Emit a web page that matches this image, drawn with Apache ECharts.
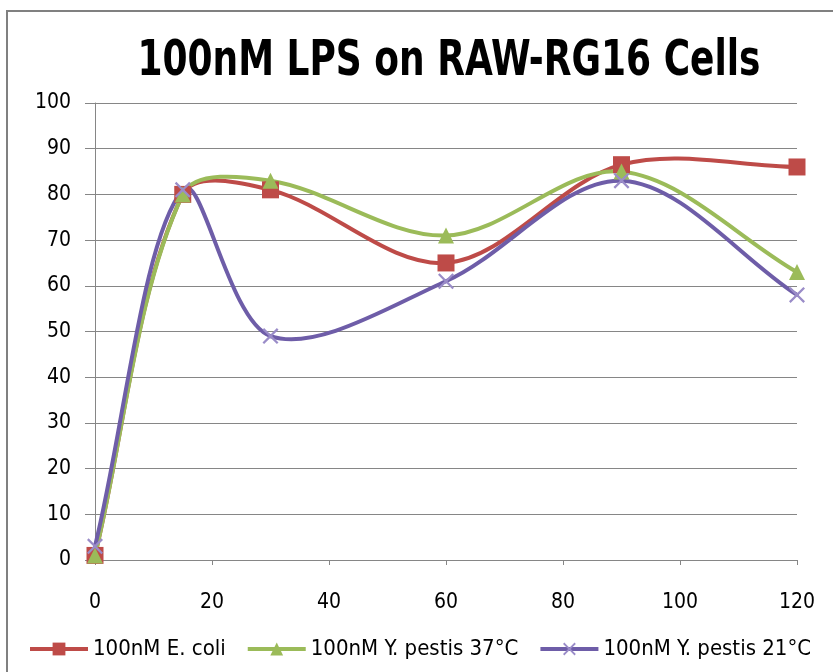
<!DOCTYPE html>
<html>
<head>
<meta charset="utf-8">
<script src="https://cdn.jsdelivr.net/npm/echarts@6/dist/echarts.min.js"></script>
<style>
html,body{margin:0;padding:0;background:#fff;}
#chart{width:833px;height:672px;}
</style>
</head>
<body>
<div id="chart"></div>
<script>
const titleText = '100nM LPS on RAW-RG16 Cells';
const seriesNames = ['100nM E. coli', '100nM Y. pestis 37°C', '100nM Y. pestis 21°C'];
const xValues = [0, 15, 30, 60, 90, 120];
const ecoli = [1, 80, 81, 65, 86.5, 86];
const ypestis37 = [1, 80, 83, 71, 85, 63];
const ypestis21 = [3, 81, 49, 61, 83, 58];
const yTicks = [0, 10, 20, 30, 40, 50, 60, 70, 80, 90, 100];
const xTicks = [0, 20, 40, 60, 80, 100, 120];

const FONT = '"DejaVu Sans Condensed", "Liberation Sans Narrow", sans-serif';
const colors = ['#BE4B48', '#9BBB59', '#6E5DA8'];
const markerColors = ['#BE4B48', '#9BBB59', '#9a8cc8'];
const crossPath = 'path://M0,1 L1,0 L5,4 L9,0 L10,1 L6,5 L10,9 L9,10 L5,6 L1,10 L0,9 L4,5 Z';
const LINE_W = 4;

function pairs(vals){ return xValues.map((x,i)=>[x, vals[i]]); }

// Smoothed segment (Excel-like), built from pixel positions given by the axes
function curveSeries(name, vals, color, z){
  return {
    type: 'custom', name: name + ' curve', z: z, silent: true,
    data: pairs(vals), encode: {x: 0, y: 1},
    renderItem: function(params, api){
      const i = params.dataIndex;
      const n = vals.length;
      if (i >= n - 1) return null;
      const P = xValues.map((x,k)=>api.coord([x, vals[k]]));
      const dist = (a,b)=>Math.hypot(b[0]-a[0], b[1]-a[1]);
      const p0 = P[Math.max(i-1,0)], p1 = P[i], p2 = P[i+1], p3 = P[Math.min(i+2,n-1)];
      const d01 = dist(p0,p1), d12 = dist(p1,p2), d23 = dist(p2,p3);
      const f1 = (d01 + d12) > 0 ? d12/(d01+d12)/3 : 0;
      const f2 = (d12 + d23) > 0 ? d12/(d12+d23)/3 : 0;
      const t1 = [p2[0]-p0[0], p2[1]-p0[1]];
      const t2 = [p3[0]-p1[0], p3[1]-p1[1]];
      return {
        type: 'bezierCurve',
        shape: {
          x1: p1[0], y1: p1[1], x2: p2[0], y2: p2[1],
          cpx1: p1[0] + t1[0]*f1, cpy1: p1[1] + t1[1]*f1,
          cpx2: p2[0] - t2[0]*f2, cpy2: p2[1] - t2[1]*f2
        },
        style: {stroke: color, lineWidth: LINE_W, fill: null, lineCap: 'round'}
      };
    }
  };
}

const chart = echarts.init(document.getElementById('chart'), null, {renderer:'canvas'});
chart.setOption({
  animation: false,
  backgroundColor: '#fff',
  graphic: [
    {type: 'rect', shape: {x: 7, y: 11, width: 840, height: 680},
     style: {fill: 'none', stroke: '#808080', lineWidth: 2}, z: -1},
    {type: 'text', x: 449, y: 62, scaleY: 1.25,
     style: {text: titleText, font: 'bold 40px ' + FONT, fill: '#000',
       textAlign: 'center', textVerticalAlign: 'middle'}}
  ],
  grid: {left: 95, right: 36, top: 103, bottom: 112, containLabel: false},
  legend: {
    bottom: 12, left: 28, width: 805, itemWidth: 58, itemHeight: 16, itemGap: 20,
    padding: 0,
    textStyle: {fontFamily: FONT, fontSize: 22, color: '#000'},
    data: seriesNames.map((nm,k)=>({name: nm, lineStyle: {opacity: 1, width: LINE_W, color: colors[k]}}))
  },
  xAxis: {
    type: 'value', min: 0, max: 120, interval: 20,
    axisLine: {show: true, onZero: false, lineStyle: {color: '#868686', width: 1}},
    axisTick: {show: true, length: 5, lineStyle: {color: '#868686'}},
    axisLabel: {margin: 32, fontFamily: FONT, fontSize: 21, color: '#000',
      formatter: v => xTicks.includes(v) ? String(v) : ''},
    splitLine: {show: false}
  },
  yAxis: {
    type: 'value', min: 0, max: 100, interval: 10,
    axisLine: {show: true, lineStyle: {color: '#868686', width: 1}},
    axisTick: {show: true, length: 10, lineStyle: {color: '#868686'}},
    axisLabel: {margin: 24, fontFamily: FONT, fontSize: 21, color: '#000',
      formatter: v => yTicks.includes(v) ? String(v) : ''},
    splitLine: {show: true, lineStyle: {color: '#868686', width: 1}}
  },
  series: [
    curveSeries(seriesNames[0], ecoli, colors[0], 2),
    curveSeries(seriesNames[1], ypestis37, colors[1], 3),
    curveSeries(seriesNames[2], ypestis21, colors[2], 4),
    {name: seriesNames[0], type: 'line', data: pairs(ecoli),
     symbol: 'rect', symbolSize: 17, color: colors[0],
     lineStyle: {width: LINE_W, color: colors[0], opacity: 0}, itemStyle: {color: markerColors[0]}, z: 5},
    {name: seriesNames[1], type: 'line', data: pairs(ypestis37),
     symbol: 'triangle', symbolSize: 16, color: colors[1],
     lineStyle: {width: LINE_W, color: colors[1], opacity: 0}, itemStyle: {color: markerColors[1]}, z: 6},
    {name: seriesNames[2], type: 'line', data: pairs(ypestis21),
     symbol: crossPath, symbolSize: 16, color: colors[2],
     lineStyle: {width: LINE_W, color: colors[2], opacity: 0}, itemStyle: {color: markerColors[2]}, z: 7}
  ]
});
</script>
</body>
</html>
